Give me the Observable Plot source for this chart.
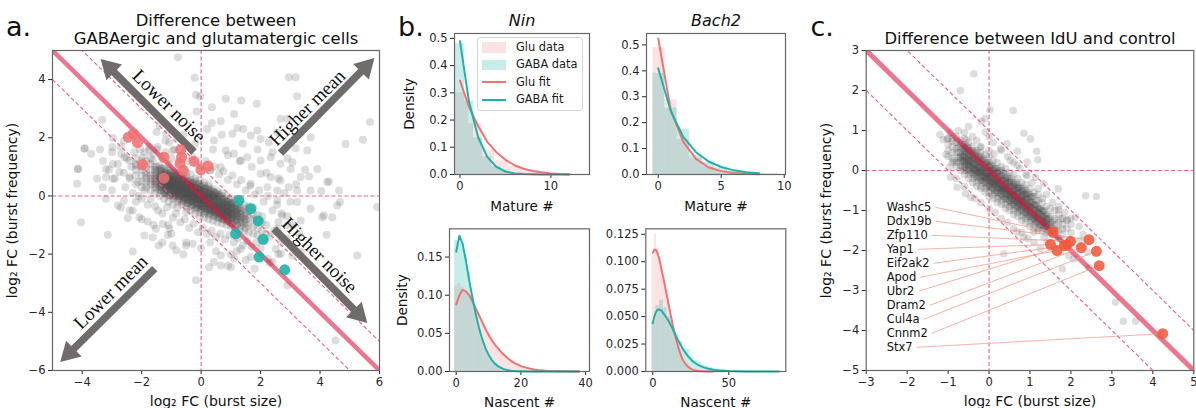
<!DOCTYPE html>
<html><head><meta charset="utf-8">
<script src="https://cdn.jsdelivr.net/npm/d3@7"></script>
<script src="https://cdn.jsdelivr.net/npm/@observablehq/plot@0.6"></script>
<style>
html,body{margin:0;padding:0;background:#fff;}
#root{position:relative;width:1196px;height:408px;overflow:hidden;font-family:'DejaVu Sans',sans-serif;}
.panel{position:absolute;}
.panel svg{overflow:visible;}
</style></head><body><div id="root"></div>
<script>
// ================= DATA =================
// ---- panel a: GABAergic vs glutamatergic (log2 FC burst size, log2 FC burst frequency)
const aTicksX = [-4,-2,0,2,4,6];
const aTicksY = [-6,-4,-2,0,2,4];
const aCoreCols = [
 [-2.2,[1.1,0.7,0.4,0.9,1.3]],
 [-2.0,[0.5,0.9,1.2,0.7,0.3,1.0]],
 [-1.85,[0.6,1.0,0.3,0.8,1.2,0.45,0.7]],
 [-1.7,[0.2,0.5,0.9,1.1,0.7,0.4,0.6,1.3]],
 [-1.55,[0.3,0.6,0.8,1.0,0.5,0.1,0.7,0.9,0.4]],
 [-1.4,[0.2,0.45,0.7,0.9,0.55,0.3,1.05,0.0,0.65]],
 [-1.25,[0.1,0.35,0.6,0.8,0.5,0.2,0.95,0.7,0.4,-0.1]],
 [-1.1,[0.0,0.3,0.5,0.75,0.9,0.45,0.15,0.6,0.35,-0.2,1.1]],
 [-0.95,[-0.1,0.2,0.45,0.7,0.35,0.0,0.55,0.85,0.25,0.6,-0.3]],
 [-0.8,[-0.2,0.1,0.35,0.6,0.8,0.25,0.45,0.0,0.7,0.15,0.5,-0.4]],
 [-0.65,[-0.3,0.0,0.25,0.5,0.7,0.35,0.1,0.6,-0.15,0.4,0.9,0.2]],
 [-0.5,[-0.4,-0.1,0.15,0.4,0.65,0.3,0.0,0.5,-0.25,0.25,0.8,0.1,-0.55]],
 [-0.35,[-0.5,-0.2,0.1,0.35,0.55,0.2,-0.05,0.45,-0.35,0.0,0.75,0.3]],
 [-0.2,[-0.6,-0.3,0.0,0.25,0.5,0.1,-0.15,0.35,-0.45,0.6,0.15,-0.05]],
 [-0.05,[-0.7,-0.4,-0.1,0.2,0.4,0.0,-0.25,0.3,-0.55,0.55,0.1,-0.15]],
 [0.1,[-0.75,-0.45,-0.15,0.1,0.35,-0.05,-0.3,0.25,-0.6,0.45,0.0,-0.2]],
 [0.25,[-0.8,-0.5,-0.25,0.05,0.3,-0.1,-0.4,0.2,-0.65,0.4,-0.05]],
 [0.4,[-0.85,-0.55,-0.3,0.0,0.25,-0.15,-0.45,0.15,-0.7,-0.05]],
 [0.55,[-0.9,-0.6,-0.35,-0.1,0.15,-0.25,-0.5,0.05,-0.75]],
 [0.7,[-0.95,-0.65,-0.4,-0.15,0.1,-0.3,-0.55,-0.8,0.0]],
 [0.85,[-1.0,-0.7,-0.45,-0.2,0.0,-0.35,-0.6,-0.85]],
 [1.0,[-1.05,-0.8,-0.5,-0.25,-0.1,-0.4,-0.65,-0.9]],
 [1.15,[-1.1,-0.85,-0.55,-0.3,-0.15,-0.45,-0.7]],
 [1.3,[-1.15,-0.9,-0.6,-0.4,-0.2,-0.75,-0.5]],
 [1.45,[-1.2,-0.95,-0.7,-0.45,-0.3,-0.8]],
 [1.6,[-1.25,-1.0,-0.75,-0.5,-0.35]],
 [1.75,[-1.3,-1.05,-0.8,-0.6,-0.4]],
 [1.9,[-1.1,-0.85,-0.65,-1.35]],
 [2.05,[-1.2,-0.9,-0.7]],
 [2.2,[-1.0,-1.3]]
];
const aCoreCols2 = [
 [-1.33,[0.2,0.4,0.55,0.7,0.85,0.3,0.6,0.95]],
 [-1.18,[0.15,0.3,0.5,0.65,0.8,0.4,0.05,0.6]],
 [-1.03,[0.05,0.25,0.4,0.55,0.7,0.35,0.15,0.85]],
 [-0.88,[0.0,0.2,0.35,0.5,0.65,0.3,0.1,0.8]],
 [-0.73,[-0.1,0.1,0.25,0.4,0.55,0.2,0.0,0.7]],
 [-0.58,[-0.15,0.05,0.2,0.35,0.5,0.15,-0.05,0.6]],
 [-0.43,[-0.25,-0.05,0.1,0.25,0.4,0.05,-0.15,0.5]],
 [-0.28,[-0.3,-0.1,0.05,0.2,0.35,0.0,-0.2,0.45]],
 [-0.13,[-0.4,-0.2,0.0,0.1,0.25,-0.1,-0.3,0.4]],
 [0.02,[-0.45,-0.25,-0.05,0.05,0.2,-0.15,-0.35,0.3]],
 [0.17,[-0.55,-0.35,-0.15,0.0,0.15,-0.25,-0.45,0.25]],
 [0.32,[-0.6,-0.4,-0.2,-0.05,0.1,-0.3,-0.5,0.2]],
 [0.47,[-0.65,-0.45,-0.3,-0.1,0.05,-0.35,-0.55,0.1]],
 [0.62,[-0.75,-0.55,-0.35,-0.2,0.0,-0.45,-0.65]],
 [0.77,[-0.8,-0.6,-0.4,-0.25,-0.1,-0.5,-0.7]],
 [0.92,[-0.85,-0.65,-0.5,-0.3,-0.15,-0.55,-0.75]],
 [1.07,[-0.95,-0.75,-0.55,-0.4,-0.25,-0.65]],
 [1.22,[-1.0,-0.8,-0.6,-0.45,-0.3,-0.7]]
];
const aCoreCols3 = [
 [-1.5,[0.25,0.4,0.5,0.62,0.75,0.88,1.0]],
 [-1.35,[0.18,0.32,0.45,0.57,0.68,0.8,0.93]],
 [-1.2,[0.1,0.25,0.37,0.5,0.6,0.74,0.86]],
 [-1.05,[0.03,0.18,0.3,0.42,0.55,0.66,0.8]],
 [-0.9,[-0.05,0.1,0.24,0.36,0.47,0.6,0.72]],
 [-0.75,[-0.12,0.04,0.17,0.29,0.4,0.54,0.66]],
 [-0.6,[-0.2,-0.04,0.1,0.22,0.34,0.47,0.6]],
 [-0.45,[-0.26,-0.1,0.03,0.15,0.27,0.4,0.52]],
 [-0.3,[-0.33,-0.17,-0.04,0.08,0.2,0.33,0.46]],
 [-0.15,[-0.4,-0.24,-0.1,0.02,0.14,0.27,0.4]],
 [0.0,[-0.46,-0.3,-0.17,-0.05,0.07,0.2,0.33]],
 [0.15,[-0.53,-0.37,-0.24,-0.12,0.0,0.13,0.26]],
 [0.3,[-0.6,-0.44,-0.3,-0.18,-0.06,0.07,0.2]],
 [0.45,[-0.66,-0.5,-0.37,-0.25,-0.13,0.0,0.13]],
 [0.6,[-0.73,-0.57,-0.44,-0.32,-0.2,-0.07,0.06]],
 [0.75,[-0.8,-0.64,-0.5,-0.38,-0.26,-0.14]],
 [0.9,[-0.86,-0.7,-0.57,-0.45,-0.33,-0.2]],
 [1.05,[-0.92,-0.76,-0.63,-0.52,-0.4,-0.27]],
 [1.2,[-0.98,-0.83,-0.7,-0.58,-0.46,-0.34]],
 [1.35,[-1.04,-0.9,-0.76,-0.64,-0.52]],
 [1.5,[-1.1,-0.95,-0.82,-0.7,-0.58]]
];
const aCoreCols4 = [
 [-1.12,[0.2,0.35,0.47,0.6,0.72]],
 [-0.97,[0.12,0.27,0.4,0.52,0.65]],
 [-0.82,[0.05,0.2,0.33,0.45,0.58]],
 [-0.67,[-0.02,0.13,0.26,0.38,0.5]],
 [-0.52,[-0.1,0.06,0.19,0.31,0.43]],
 [-0.37,[-0.17,-0.01,0.12,0.24,0.36]],
 [-0.22,[-0.23,-0.08,0.05,0.17,0.3]],
 [-0.07,[-0.3,-0.15,-0.02,0.1,0.23]],
 [0.08,[-0.37,-0.22,-0.09,0.04,0.16]],
 [0.23,[-0.43,-0.28,-0.15,-0.03,0.1]],
 [0.38,[-0.5,-0.35,-0.22,-0.1,0.03]],
 [0.53,[-0.57,-0.42,-0.29,-0.16,-0.04]],
 [0.68,[-0.64,-0.49,-0.36,-0.23,-0.1]],
 [0.83,[-0.7,-0.55,-0.42,-0.3,-0.17]],
 [0.98,[-0.77,-0.62,-0.49,-0.36,-0.24]]
];
const aHalo = [[-3.3,1.2],[-3.1,0.9],[-3.0,1.5],[-2.9,0.6],[-2.8,1.1],[-2.7,1.7],[-2.6,0.8],[-2.55,0.3],[-2.5,1.3],[-2.4,0.6],[-2.35,1.0],[-2.3,0.1],[-2.25,1.5],[-2.2,-0.2],[-2.1,0.0],[-2.05,1.6],[-2.0,-0.1],[-1.9,1.5],[-1.8,-0.3],[-1.75,1.7],[-1.7,-0.1],[-1.6,1.45],[-1.55,-0.35],[-1.5,1.6],[-1.45,-0.5],[-1.35,1.35],[-1.3,-0.6],[-1.2,1.5],[-1.15,-0.4],[-1.0,1.3],[-0.95,-0.75],[-0.9,1.6],[-0.85,-0.6],[-0.75,1.2],[-0.7,-0.9],[-0.6,1.45],[-0.55,-0.8],[-0.45,1.2],[-0.4,-1.1],[-0.3,1.35],[-0.25,-0.95],[-0.15,1.1],[-0.1,-1.25],[0.0,1.0],[0.05,-1.1],[0.15,1.2],[0.2,-1.3],[0.3,0.9],[0.35,-1.2],[0.45,1.0],[0.5,-1.4],[0.6,0.75],[0.65,-1.3],[0.75,0.85],[0.8,-1.5],[0.9,0.55],[0.95,-1.35],[1.05,0.7],[1.1,-1.6],[1.2,0.4],[1.25,-1.45],[1.35,0.55],[1.4,-1.7],[1.5,0.2],[1.55,-1.55],[1.65,0.35],[1.7,-1.75],[1.8,0.05],[1.85,-1.6],[1.95,0.2],[2.0,-1.8],[2.1,-0.2],[2.15,-1.55],[2.25,0.0],[2.3,-1.4],[2.4,-0.5],[2.45,-1.2],[2.55,-0.3],[2.6,-0.9],[2.7,-0.6],[2.8,0.1],[2.9,-0.7],[3.0,-0.2],[3.1,-1.0],[-3.5,0.6],[-3.4,1.6],[-2.6,1.9],[-2.2,1.95],[-1.2,1.9],[-0.8,2.0],[0.4,1.6],[0.9,1.4],[1.3,1.2],[1.7,1.0],[2.2,0.8],[2.6,0.6],[3.2,0.4],[-1.0,-1.3],[-1.6,-1.0],[-2.0,-0.8],[-0.5,-1.6],[0.0,-1.8],[0.5,-1.9],[1.0,-2.0],[1.5,-2.2],[2.3,-2.3],[-2.7,-0.4],[-3.0,0.2],[-3.2,-0.1],[-1.3,-1.6],[-0.6,-2.0],[0.9,-2.4],[1.8,-2.5],[2.7,-1.6],[3.3,-1.3],[3.5,0.9],[2.9,1.3],[2.4,1.5],[1.9,1.6],[1.4,1.8],[0.7,2.1],[0.2,2.3],[-0.2,1.8],[-0.6,2.1],[-1.5,2.2],[-1.9,0.2],[-2.4,-0.5],[-1.1,-1.0],[0.3,-1.6],[1.2,-1.9],[2.6,-2.0]];
const aSparse = [[-0.78,4.77],[-0.22,4.06],[-0.04,3.42],[-0.17,3.48],[-0.15,2.9],[0.36,3.05],[0.83,3.34],[1.35,3.28],[1.87,3.17],[2.95,4.08],[3.18,4.08],[3.23,3.43],[2.67,2.65],[2.9,2.65],[0.36,2.51],[0.66,2.57],[1.22,2.34],[1.42,2.3],[1.89,2.25],[1.05,2.14],[1.67,2.08],[2.0,1.96],[2.28,1.85],[3.18,1.64],[3.57,1.56],[4.86,1.79],[5.44,1.93],[5.68,2.54],[0.43,1.91],[0.83,1.56],[1.1,1.45],[1.33,1.22],[1.55,1.33],[2.0,1.22],[2.34,1.33],[2.67,1.11],[3.01,0.93],[3.35,0.65],[3.63,0.67],[3.91,0.93],[4.3,0.5],[4.64,0.19],[2.0,0.76],[2.34,0.65],[2.67,0.53],[2.95,0.3],[3.23,0.19],[3.68,0.19],[2.56,0.19],[2.23,0.3],[1.67,0.42],[0.66,0.99],[0.32,0.88],[3.68,2.02],[2.56,2.19],[1.11,2.82],[4.04,0.17],[4.24,0.48],[3.07,1.16],
 [2.56,-0.15],[3.23,-0.21],[4.58,-0.33],[5.92,-0.38],[4.07,-0.73],[4.41,-0.73],[4.22,-1.33],[5.25,-2.05],[4.52,-4.97],[2.51,-1.82],[2.68,-1.99],[2.9,-3.08],[2.23,-2.16],[1.67,-2.1],[1.33,-1.82],[1.11,-2.16],[0.66,-2.39],[0.43,-2.27],[0.27,-2.45],[1.0,-2.45],[0.66,-2.05],[2.4,-2.27],[2.9,-1.47],[3.07,-2.05],[3.35,-1.93],[2.56,-1.13],[2.9,-1.01],[2.73,-0.67],[3.35,-0.84],[3.68,-0.44],[4.13,-0.67],[4.67,-0.21],
 [-4.04,-0.9],[-3.14,-1.33],[-2.3,-1.91],[-2.47,-0.76],[-2.8,-0.33],[-2.6,-0.16],[-2.3,-0.5],[-2.08,-0.73],[-1.91,-1.36],[-1.63,-1.42],[-1.43,-1.7],[-1.12,-1.34],[-0.96,-1.7],[-0.84,-1.87],[-0.51,-1.7],[-0.28,-1.64],[-0.17,-2.9],[-1.8,-0.88],[-1.52,-1.13],[-1.29,-0.96],[-1.07,-1.13],
 [-3.33,2.62],[-3.93,1.62],[-3.7,1.45],[-2.97,1.99],[-2.99,1.68],[-4.15,0.93],[-3.2,0.93],[-2.97,0.59],[-4.17,0.42],[-4.14,0.93],[-3.91,1.64],[-2.69,1.45],[-2.58,1.33],[-2.41,1.22],[-2.19,1.05],[-1.97,1.33],[-1.74,1.56],[-1.63,1.22],[-1.46,1.68],[-1.4,2.42],[-1.18,2.14],[-1.07,1.85],[-0.96,1.56],[-2.97,1.1],[-2.75,0.82],[-3.2,0.65],[-2.41,0.65],[-2.13,0.48],[-3.31,0.3]];
const aGluGenes = [[-2.45,2.02],[-2.28,2.14],[-2.14,1.83],[-1.97,1.08],[-1.25,1.33],[-1.25,0.61],[-0.69,1.59],[-0.66,1.33],[-0.71,1.11],[-0.6,0.88],[-0.24,1.19],[-0.01,0.9],[0.23,1.03]];
const aGabaGenes = [[1.27,-0.15],[1.67,-0.44],[1.92,-0.86],[1.16,-1.3],[2.08,-1.49],[1.95,-2.1],[2.81,-2.54]];
const diagOffsets = [1, -1];
const aArrows = [
 {label:"Lower noise", x1:-0.24, y1:1.51, x2:-3.38, y2:4.71, tx:-1.08, ty:3.09, rot:45},
 {label:"Higher mean", x1:2.67, y1:1.47, x2:5.83, y2:4.74, tx:3.57, ty:3.03, rot:-45},
 {label:"Lower mean", x1:-1.56, y1:-2.5, x2:-4.74, y2:-5.71, tx:-3.04, ty:-3.31, rot:-45},
 {label:"Higher noise", x1:2.45, y1:-1.13, x2:5.59, y2:-4.37, tx:3.98, ty:-2.04, rot:45}
];

// ---- panel b: Nin / Bach2 distributions
const ninMatureFitX = [0,1,2,3,4,5,6,7,8,9,10,11,12];
const ninMatureGluFit = [0.345,0.247,0.178,0.12,0.082,0.054,0.034,0.021,0.013,0.008,0.004,0.002,0.001];
const ninMatureGabaFit = [0.49,0.267,0.137,0.065,0.028,0.011,0.004,0.0015,0.0005,0.0002,0.0001,0,0];
const ninMatureGluEdges = [-0.5,0.95,2.4,3.85,5.3,6.75,8.2,9.65,11.1,12.55];
const ninMatureGluHist = [0.30,0.186,0.09,0.05,0.03,0.016,0.008,0.004,0.002];
const ninMatureGabaEdges = [-0.5,0.5,1.5,2.5,3.5,4.5,5.5,6.5,7.5,8.5,9.5,10.5,11.5,12.5];
const ninMatureGabaHist = [0.48,0.27,0.135,0.065,0.03,0.012,0.005,0.002,0.001,0.0005,0.0003,0.0002,0.0001];

const bachMatureFitX = [0,1,2,3,4,5,6,7,8];
const bachMatureGluFit = [0.525,0.247,0.125,0.06,0.027,0.013,0.006,0.003,0.001];
const bachMatureGabaFit = [0.41,0.244,0.144,0.086,0.05,0.029,0.016,0.009,0.005];
const bachMatureEdges = [-0.42,0.53,1.5,2.5,3.5,4.5,5.5,6.5,7.5,8.5,9.6];
const bachMatureGluHist = [0.49,0.288,0.135,0.062,0.03,0.014,0.007,0.003,0.0015,0.0008];
const bachMatureGabaHist = [0.39,0.256,0.175,0.075,0.048,0.026,0.013,0.007,0.004,0.002];

const ninNascentGluFitX = [0,1,2,3,4,5,6,7,8,9,10,11,12,13,14,15,16,17,18,19,20,21,22,23,24,25,26,27,28,29,30,31,32,33,34,35,36,37,38];
const ninNascentGluFit = [0.088,0.1,0.107,0.105,0.1,0.092,0.083,0.074,0.065,0.056,0.048,0.041,0.035,0.03,0.025,0.021,0.017,0.014,0.011,0.009,0.007,0.0057,0.0045,0.0035,0.0027,0.002,0.0016,0.0012,0.0009,0.0007,0.0005,0.0004,0.0003,0.0002,0.0002,0.0001,0.0001,0.0001,0];
const ninNascentGabaFitX = [0,1,2,3,4,5,6,7,8,9,10,11,12,13,14,15,16,17,18,19,20,22,25,30,38];
const ninNascentGabaFit = [0.157,0.178,0.167,0.145,0.12,0.097,0.076,0.058,0.043,0.031,0.022,0.015,0.01,0.0067,0.0044,0.0028,0.0018,0.0011,0.0007,0.0004,0.0003,0.0001,0,0,0];
const ninNascentGluHist = [0.112,0.115,0.11,0.106,0.1,0.093,0.085,0.076,0.067,0.058,0.05,0.043,0.036,0.031,0.026,0.021,0.017,0.014,0.011,0.009,0.007,0.0055,0.0044,0.0034,0.0026,0.002,0.0015,0.0012,0.0009,0.0007,0.0005,0.0004,0.0003,0.0002,0.0002,0.0001,0.0001,0.0001];
const ninNascentGabaHist = [0.172,0.17,0.168,0.152,0.13,0.1,0.078,0.058,0.043,0.031,0.022,0.015,0.01,0.007,0.0045,0.003,0.002,0.0012,0.0008,0.0005,0.0003];

const bachNascentGluFitX = [0,1,2,3,4,5,6,7,8,9,10,11,12,13,14,15,16,17,18,19,20,21,22,23,24,25,26,28,30,33,36,40];
const bachNascentGluFit = [0.108,0.111,0.111,0.108,0.104,0.098,0.091,0.085,0.078,0.071,0.064,0.057,0.05,0.043,0.037,0.031,0.026,0.021,0.017,0.013,0.010,0.008,0.006,0.0046,0.0035,0.0026,0.0019,0.001,0.0005,0.0002,0.0001,0];
const bachNascentGabaFitX = [0,1,2,3,4,5,6,7,8,9,10,12,14,16,18,20,22,24,26,28,30,33,36,40,45,50,55,60,70,83];
const bachNascentGabaFit = [0.044,0.05,0.054,0.056,0.0565,0.056,0.055,0.053,0.051,0.049,0.047,0.042,0.036,0.03,0.025,0.02,0.016,0.0125,0.0097,0.0075,0.0058,0.004,0.0027,0.0016,0.0008,0.0004,0.0002,0.0001,0,0];
const bachNascentGluHist = [0.105,0.125,0.112,0.104,0.095,0.085,0.074,0.062,0.05,0.04,0.031,0.023,0.016,0.011,0.007,0.0045,0.003,0.002,0.0012,0.0008];
const bachNascentGabaHist = [0.045,0.06,0.065,0.058,0.05,0.042,0.034,0.027,0.021,0.02,0.013,0.01,0.008,0.006,0.0045,0.0035,0.0025,0.002,0.0015,0.0012,0.001,0.0008,0.0006,0.0005,0.0004,0.0003,0.0003,0.0002,0.0002,0.0001,0.0001,0.0001,0.0001];

const legendLabels = ["Glu data","GABA data","Glu fit","GABA fit"];

// ---- panel c: IdU vs control
const cTicksX = [-3,-2,-1,0,1,2,3,4,5];
const cTicksY = [-5,-4,-3,-2,-1,0,1,2,3];
const cCoreCols = [
 [-1.0,[0.5,0.8,0.35,0.65]],
 [-0.9,[0.3,0.6,0.8,0.45,0.2]],
 [-0.8,[0.2,0.45,0.7,0.55,0.1,0.85]],
 [-0.7,[0.1,0.35,0.6,0.45,0.75,0.0,0.25]],
 [-0.6,[0.0,0.25,0.5,0.4,0.65,-0.1,0.15,0.8]],
 [-0.5,[-0.1,0.15,0.4,0.3,0.55,-0.2,0.05,0.7,0.2]],
 [-0.4,[-0.2,0.05,0.3,0.2,0.5,-0.3,-0.05,0.6,0.1,0.4]],
 [-0.3,[-0.3,-0.05,0.2,0.1,0.45,-0.4,-0.15,0.5,0.0,0.3]],
 [-0.2,[-0.4,-0.15,0.1,0.0,0.35,-0.45,-0.25,0.45,-0.05,0.25,0.6]],
 [-0.1,[-0.45,-0.2,0.05,-0.1,0.25,-0.55,-0.3,0.4,-0.15,0.15]],
 [0.0,[-0.55,-0.3,-0.05,-0.15,0.2,-0.65,-0.4,0.35,-0.2,0.1,0.5]],
 [0.1,[-0.6,-0.35,-0.1,-0.25,0.1,-0.7,-0.45,0.25,-0.3,0.0]],
 [0.2,[-0.7,-0.45,-0.2,-0.3,0.05,-0.8,-0.55,0.2,-0.35,-0.05]],
 [0.3,[-0.75,-0.5,-0.25,-0.4,0.0,-0.85,-0.6,0.1,-0.45,-0.15]],
 [0.4,[-0.85,-0.6,-0.35,-0.45,-0.1,-0.95,-0.7,0.05,-0.5,-0.25]],
 [0.5,[-0.9,-0.65,-0.4,-0.55,-0.2,-1.0,-0.75,-0.05,-0.6,-0.3]],
 [0.6,[-1.0,-0.75,-0.5,-0.6,-0.3,-1.1,-0.85,-0.1,-0.65,-0.4]],
 [0.7,[-1.05,-0.8,-0.55,-0.7,-0.35,-1.15,-0.9,-0.2,-0.75,-0.45]],
 [0.8,[-1.15,-0.9,-0.65,-0.75,-0.45,-1.25,-1.0,-0.3,-0.8,-0.55]],
 [0.9,[-1.2,-0.95,-0.7,-0.85,-0.5,-1.3,-1.05,-0.35,-0.9,-0.6]],
 [1.0,[-1.3,-1.05,-0.8,-0.9,-0.6,-1.4,-1.15,-0.45,-0.95]],
 [1.1,[-1.35,-1.1,-0.85,-1.0,-0.65,-1.45,-1.2,-0.55]],
 [1.2,[-1.45,-1.2,-0.95,-1.05,-0.75,-1.5,-1.3,-0.6]],
 [1.3,[-1.5,-1.25,-1.0,-1.15,-0.8,-1.35,-0.7]],
 [1.4,[-1.55,-1.3,-1.1,-1.2,-0.9,-1.4]],
 [1.5,[-1.6,-1.35,-1.15,-1.3,-0.95]],
 [1.6,[-1.65,-1.45,-1.2,-1.0]],
 [1.7,[-1.5,-1.3,-1.1,-1.7]],
 [1.8,[-1.6,-1.35,-1.2]],
 [1.9,[-1.45,-1.25]],
 [2.0,[-1.55,-1.35]]
];
const cCoreCols2 = [
 [-0.65,[0.1,0.25,0.4,0.55,0.3,0.65]],
 [-0.55,[0.0,0.15,0.3,0.45,0.6,0.25]],
 [-0.45,[-0.05,0.1,0.25,0.35,0.5,0.2]],
 [-0.35,[-0.15,0.0,0.15,0.3,0.45,0.05]],
 [-0.25,[-0.25,-0.05,0.1,0.2,0.35,0.0]],
 [-0.15,[-0.3,-0.15,0.0,0.15,0.3,-0.05]],
 [-0.05,[-0.4,-0.2,-0.05,0.05,0.2,-0.15]],
 [0.05,[-0.5,-0.3,-0.15,0.0,0.15,-0.2]],
 [0.15,[-0.55,-0.35,-0.2,-0.1,0.05,-0.3]],
 [0.25,[-0.65,-0.45,-0.3,-0.15,0.0,-0.35]],
 [0.35,[-0.7,-0.5,-0.4,-0.25,-0.05,-0.45]],
 [0.45,[-0.8,-0.6,-0.45,-0.3,-0.15,-0.5]],
 [0.55,[-0.85,-0.7,-0.55,-0.4,-0.2,-0.6]],
 [0.65,[-0.95,-0.75,-0.6,-0.45,-0.3,-0.65]],
 [0.75,[-1.0,-0.85,-0.7,-0.55,-0.4,-0.75]],
 [0.85,[-1.1,-0.9,-0.75,-0.6,-0.45,-0.8]],
 [0.95,[-1.15,-1.0,-0.85,-0.7,-0.55,-0.9]],
 [1.05,[-1.25,-1.1,-0.95,-0.8,-0.65]],
 [1.15,[-1.3,-1.15,-1.0,-0.85,-0.75]],
 [1.25,[-1.4,-1.25,-1.1,-0.95]],
 [1.35,[-1.45,-1.3,-1.15,-1.0]],
 [1.45,[-1.5,-1.35,-1.2]]
];
const cCoreCols3 = [
 [-0.75,[0.2,0.32,0.45,0.58,0.7]],
 [-0.62,[0.08,0.22,0.35,0.48,0.6]],
 [-0.5,[0.0,0.13,0.26,0.38,0.5]],
 [-0.38,[-0.1,0.04,0.17,0.3,0.42]],
 [-0.27,[-0.18,-0.05,0.08,0.21,0.33]],
 [-0.17,[-0.25,-0.12,0.0,0.13,0.26]],
 [-0.07,[-0.33,-0.2,-0.07,0.06,0.18]],
 [0.03,[-0.42,-0.28,-0.15,-0.02,0.1]],
 [0.13,[-0.5,-0.36,-0.23,-0.1,0.03]],
 [0.23,[-0.57,-0.43,-0.3,-0.17,-0.05]],
 [0.33,[-0.65,-0.51,-0.38,-0.25,-0.12]],
 [0.43,[-0.72,-0.59,-0.46,-0.33,-0.2]],
 [0.53,[-0.8,-0.67,-0.54,-0.41,-0.28]],
 [0.63,[-0.88,-0.75,-0.62,-0.49,-0.36]],
 [0.73,[-0.96,-0.83,-0.7,-0.57,-0.44]],
 [0.83,[-1.04,-0.9,-0.77,-0.64,-0.51]],
 [0.93,[-1.11,-0.98,-0.85,-0.72,-0.59]],
 [1.03,[-1.19,-1.06,-0.93,-0.8,-0.67]],
 [1.13,[-1.27,-1.14,-1.01,-0.88]],
 [1.23,[-1.35,-1.22,-1.09,-0.96]],
 [1.33,[-1.42,-1.29,-1.16,-1.03]],
 [1.43,[-1.5,-1.37,-1.24,-1.11]],
 [1.53,[-1.55,-1.43,-1.3]],
 [1.63,[-1.6,-1.48,-1.36]]
];
const cCoreCols4 = [
 [-0.58,[0.1,0.22,0.34,0.46,0.56]],
 [-0.46,[0.0,0.12,0.24,0.36,0.47]],
 [-0.33,[-0.1,0.02,0.14,0.26,0.37]],
 [-0.22,[-0.18,-0.06,0.05,0.17,0.28]],
 [-0.11,[-0.27,-0.15,-0.03,0.09,0.2]],
 [0.0,[-0.36,-0.24,-0.12,0.0,0.11]],
 [0.09,[-0.43,-0.31,-0.19,-0.07,0.04]],
 [0.19,[-0.5,-0.39,-0.27,-0.15,-0.04]],
 [0.29,[-0.58,-0.46,-0.35,-0.23,-0.11]],
 [0.39,[-0.66,-0.54,-0.42,-0.3,-0.19]],
 [0.49,[-0.74,-0.62,-0.5,-0.38,-0.27]],
 [0.59,[-0.82,-0.7,-0.58,-0.46,-0.35]],
 [0.69,[-0.9,-0.78,-0.66,-0.54,-0.42]],
 [0.79,[-0.97,-0.85,-0.74,-0.62,-0.5]],
 [0.89,[-1.05,-0.93,-0.81,-0.69,-0.58]],
 [0.99,[-1.13,-1.01,-0.89,-0.77,-0.66]],
 [1.09,[-1.2,-1.08,-0.97,-0.85]],
 [1.19,[-1.28,-1.16,-1.05,-0.93]],
 [1.29,[-1.35,-1.24,-1.12,-1.0]],
 [1.39,[-1.42,-1.31,-1.2]]
];
const cHalo = [[-0.37,2.42],[-0.70,2.0],[0.02,1.52],[0.59,1.5],[-0.19,1.23],[0.85,0.93],[1.01,0.79],[-0.09,0.96],[0.28,0.54],[0.69,0.48],[1.16,0.48],[1.19,0.27],[0.93,0.21],[-1.12,0.77],[-1.02,0.79],[-0.9,0.73],[-0.55,0.77],[-0.52,0.58],[-0.7,0.33],[-0.86,0.25],[0.52,0.25],[0.69,0.13],[0.93,-0.13],[1.13,-0.17],[1.34,-0.33],[1.69,-0.46],[2.36,-0.63],[2.62,-0.65],[-0.58,-0.58],[-0.78,-0.42],[-0.45,-0.67],[-0.94,-0.17],[-0.21,0.58],[0.12,0.42],[0.44,0.67],
 [1.70,-0.98],[1.58,-1.25],[1.34,-1.29],[1.18,-1.17],[1.75,-1.21],[1.91,-1.23],[2.11,-1.17],[1.09,-1.54],[1.34,-1.67],[1.79,-1.46],[2.23,-1.75],[2.4,-2.04],[1.95,-2.13],[2.07,-2.21],[1.79,-2.46],[2.44,-2.42],[3.09,-3.29],[3.28,-3.77],[3.58,-3.77],[0.69,-1.54],[0.85,-1.67],[0.36,-2.08],[1.42,-1.79],[1.58,-1.92],[1.75,-1.71],
 [-1.2,0.9],[-0.95,0.95],[-0.75,1.0],[-0.6,0.95],[-0.4,0.85],[-0.3,0.75],[-1.05,0.4],[-0.95,0.1],[-0.8,-0.2],[-0.6,-0.4],[-0.35,-0.7],[-0.2,-0.8],[0.0,-0.95],[0.15,-1.05],[0.3,-1.2],[0.45,-1.3],[0.6,-1.45],[0.8,-1.55],[0.95,-1.7],[1.1,-1.8],[1.25,-1.95],[0.1,0.7],[0.3,0.5],[0.45,0.35],[0.6,0.2],[0.75,0.05],[0.9,-0.1],[1.05,-0.3],[1.2,-0.45],[1.4,-0.6],[1.55,-0.8],[1.7,-0.9],[1.85,-1.05],[2.0,-1.2],[2.2,-1.4],[2.3,-1.6],[-0.1,1.3],[0.0,0.85],[-0.5,1.1]];
const cGenes = ["Washc5","Ddx19b","Zfp110","Yap1","Eif2ak2","Apod","Ubr2","Dram2","Cul4a","Cnnm2","Stx7"];
const cGeneBurstSize = [1.56,2.44,1.99,1.50,1.84,1.66,1.90,2.25,2.62,2.69,4.24];
const cGeneBurstFreq = [-1.54,-1.73,-1.77,-1.85,-1.88,-2.00,-1.86,-1.93,-2.02,-2.38,-4.08];

// ================= DRAWING =================
const root = document.getElementById("root");
function place(el, left, top) {
  const d = document.createElement("div");
  d.className = "panel"; d.style.left = left + "px"; d.style.top = top + "px";
  d.appendChild(el); root.appendChild(d);
}
const flat = cols => cols.flatMap(([x, ys]) => ys.map(y => [x, y]));
const pairs = (xs, ys) => xs.map((x, i) => [x, ys[i]]);
const fmtInt = d3.format("d");
const baseStyle = {fontFamily: "'DejaVu Sans', sans-serif", fontSize: "11.5px", background: "transparent", overflow: "visible", color: "#262626"};
const TXT = "#111";
const GLU = "#f08080", GLU_LINE = "#f07373", GABA = "#20b2aa";
const GRAY = "#4a4a4a", GRAY_OP = 0.19;
const DASH_COL = "#ee5f84";
const dash = {stroke: DASH_COL, strokeWidth: 1.1, strokeDasharray: "4,2.5"};
const ARROW = "#706c6c";
// identity line y = -x (thick) and dashed lines y = -x ± 1, spanning the x domain
const diagLinks = (xd, ks) => ks.map(k => ({k, x1: xd[0], y1: k - xd[0], x2: xd[1], y2: k - xd[1]}));

function arrowMarks(arrows, cfg, color) {
  const kx = (cfg.w - cfg.ml - cfg.mr) / (cfg.xd[1] - cfg.xd[0]);
  const ky = (cfg.h - cfg.mt - cfg.mb) / (cfg.yd[1] - cfg.yd[0]);
  const headR = 8.2;
  const half = Math.sqrt(Math.PI * headR * headR / (3 * Math.sqrt(3)));
  const tipDist = 2 * half, headLen = 3 * half;
  const shafts = [], heads = [];
  for (const a of arrows) {
    const px = (a.x2 - a.x1) * kx, py = -(a.y2 - a.y1) * ky;
    const L = Math.hypot(px, py), ux = px / L, uy = py / L;
    heads.push({x: a.x2 - ux * tipDist / kx, y: a.y2 + uy * tipDist / ky, rot: Math.atan2(ux, -uy) * 180 / Math.PI});
    const back = headLen - 1;
    shafts.push({x1: a.x1, y1: a.y1, x2: a.x2 - ux * back / kx, y2: a.y2 + uy * back / ky});
  }
  return [
    Plot.link(shafts, {x1: "x1", y1: "y1", x2: "x2", y2: "y2", stroke: color, strokeWidth: 7.5, strokeLinecap: "butt"}),
    Plot.dot(heads, {x: "x", y: "y", symbol: "triangle", r: headR, rotate: "rot", fill: color, stroke: "none"})
  ];
}
function diagMarks(xd, thickWidth) {
  return [
    Plot.link(diagLinks(xd, diagOffsets), {x1: "x1", y1: "y1", x2: "x2", y2: "y2", ...dash, clip: true}),
    Plot.link(diagLinks(xd, [0]), {x1: "x1", y1: "y1", x2: "x2", y2: "y2", stroke: "crimson", strokeOpacity: 0.58, strokeWidth: thickWidth, clip: true})
  ];
}

// ---------- panel a ----------
const A = {w: 395, h: 408, ml: 52, mr: 16, mt: 50, mb: 38, xd: [-5, 6], yd: [-6, 5]};
const aGray = [...flat(aCoreCols), ...flat(aCoreCols2), ...flat(aCoreCols3), ...flat(aCoreCols4), ...aHalo, ...aSparse];
const plotA = Plot.plot({
  width: A.w, height: A.h, marginLeft: A.ml, marginRight: A.mr, marginTop: A.mt, marginBottom: A.mb,
  style: baseStyle,
  x: {domain: A.xd, ticks: aTicksX, tickFormat: fmtInt, tickSize: 4, tickPadding: 3, label: null},
  y: {domain: A.yd, ticks: aTicksY, tickFormat: fmtInt, tickSize: 4, tickPadding: 3, label: null},
  marks: [
    Plot.ruleX([0], dash),
    Plot.ruleY([0], dash),
    Plot.dot(aGray, {x: d => d[0], y: d => d[1], r: 4, fill: GRAY, fillOpacity: GRAY_OP, stroke: "none", clip: true}),
    ...diagMarks(A.xd, 4.5),
    ...arrowMarks(aArrows, A, ARROW),
    Plot.dot(aGluGenes, {x: d => d[0], y: d => d[1], r: 5.5, fill: "#f07070", fillOpacity: 0.85, stroke: "none"}),
    Plot.dot(aGabaGenes, {x: d => d[0], y: d => d[1], r: 5.5, fill: GABA, fillOpacity: 0.9, stroke: "none"}),
    Plot.text(aArrows, {x: "tx", y: "ty", text: "label", rotate: "rot", fontFamily: "'Liberation Serif', serif", fontSize: 19, fill: TXT, textAnchor: "middle", lineAnchor: "middle"}),
    Plot.frame({stroke: "#666", strokeWidth: 1.2}),
    Plot.text(["Difference between"], {frameAnchor: "top", dy: -25, textAnchor: "middle", lineAnchor: "bottom", fontSize: 16.4, fill: TXT}),
    Plot.text(["GABAergic and glutamatergic cells"], {frameAnchor: "top", dy: -6.5, textAnchor: "middle", lineAnchor: "bottom", fontSize: 16.4, fill: TXT}),
    Plot.text(["log₂ FC (burst size)"], {frameAnchor: "bottom", dy: 35, textAnchor: "middle", lineAnchor: "bottom", fontSize: 14, fill: TXT}),
    Plot.text(["log₂ FC (burst frequency)"], {frameAnchor: "left", dx: -35.3, rotate: -90, textAnchor: "middle", lineAnchor: "bottom", fontSize: 14, fill: TXT}),
    Plot.text(["a."], {frameAnchor: "top-left", dx: -46.5, dy: -15, textAnchor: "start", lineAnchor: "bottom", fontSize: 27, fill: TXT})
  ]
});
place(plotA, 0, 0);

// ---------- panel b ----------
const bins = (edges, hs) => hs.map((h, i) => ({x1: edges[i], x2: edges[i + 1], y: h}));
const binsW = (start, width, hs) => hs.map((h, i) => ({x1: start + i * width, x2: start + (i + 1) * width, y: h}));
function histPanel(p) {
  return Plot.plot({
    width: p.w, height: p.h, marginLeft: p.ml, marginRight: p.mr, marginTop: p.mt, marginBottom: p.mb,
    style: baseStyle,
    x: {domain: p.xd, ticks: p.xticks, tickFormat: fmtInt, tickSize: 4, tickPadding: 3, label: null},
    y: {domain: p.yd, ticks: p.yticks, tickFormat: d3.format(p.yfmt), tickSize: 4, tickPadding: 3, label: null},
    marks: [
      Plot.rectY(p.glu, {x1: "x1", x2: "x2", y: "y", fill: GLU, fillOpacity: 0.22, clip: true}),
      Plot.rectY(p.gaba, {x1: "x1", x2: "x2", y: "y", fill: GABA, fillOpacity: 0.25, clip: true}),
      Plot.line(p.gluFit, {stroke: GLU_LINE, strokeWidth: 2}),
      Plot.line(p.gabaFit, {stroke: GABA, strokeWidth: 2}),
      Plot.frame({stroke: "#666", strokeWidth: 1.2}),
      ...(p.title ? [Plot.text([p.title], {frameAnchor: "top", dy: -8, textAnchor: "middle", lineAnchor: "bottom", fontSize: 16, fontStyle: "italic", fill: TXT})] : []),
      Plot.text([p.xlabel], {frameAnchor: "bottom", dy: p.xlabelDy, textAnchor: "middle", lineAnchor: "bottom", fontSize: 13.6, fill: TXT}),
      ...(p.ylabelDx ? [Plot.text(["Density"], {frameAnchor: "left", dx: p.ylabelDx, rotate: -90, textAnchor: "middle", lineAnchor: "bottom", fontSize: 13.6, fill: TXT})] : []),
      ...(p.tag ? [Plot.text([p.tag], {frameAnchor: "top-left", dx: p.tagDx, dy: p.tagDy, textAnchor: "start", lineAnchor: "bottom", fontSize: 27, fill: TXT})] : [])
    ]
  });
}
const ticks01 = [0, 0.1, 0.2, 0.3, 0.4, 0.5];
place(histPanel({w: 200, h: 215, ml: 59, mr: 6, mt: 33, mb: 41, xd: [-0.6, 14.25], yd: [0, 0.518], xticks: [0, 10], yticks: ticks01, yfmt: ".1f",
  glu: bins(ninMatureGluEdges, ninMatureGluHist), gaba: bins(ninMatureGabaEdges, ninMatureGabaHist),
  gluFit: pairs(ninMatureFitX, ninMatureGluFit), gabaFit: pairs(ninMatureFitX, ninMatureGabaFit),
  title: "Nin", xlabel: "Mature #", xlabelDy: 36, ylabelDx: -40.6, tag: "b.", tagDx: -56.5, tagDy: 2}), 395, 0);
place(histPanel({w: 200, h: 215, ml: 51, mr: 10, mt: 33, mb: 41, xd: [-0.93, 10.1], yd: [0, 0.544], xticks: [0, 5, 10], yticks: ticks01, yfmt: ".1f",
  glu: bins(bachMatureEdges, bachMatureGluHist), gaba: bins(bachMatureEdges, bachMatureGabaHist),
  gluFit: pairs(bachMatureFitX, bachMatureGluFit), gabaFit: pairs(bachMatureFitX, bachMatureGabaFit),
  title: "Bach2", xlabel: "Mature #", xlabelDy: 36}), 595, 0);
place(histPanel({w: 200, h: 193, ml: 54, mr: 6, mt: 13.3, mb: 37, xd: [-2.07, 41.2], yd: [0, 0.187], xticks: [0, 20, 40], yticks: [0, 0.05, 0.1, 0.15], yfmt: ".2f",
  glu: binsW(-0.5, 1, ninNascentGluHist), gaba: binsW(-0.5, 1, ninNascentGabaHist),
  gluFit: pairs(ninNascentGluFitX, ninNascentGluFit), gabaFit: pairs(ninNascentGabaFitX, ninNascentGabaFit),
  xlabel: "Nascent #", xlabelDy: 35, ylabelDx: -43}), 395, 215);
place(histPanel({w: 200, h: 193, ml: 50.3, mr: 9.7, mt: 13.3, mb: 37, xd: [-4.6, 87.5], yd: [0, 0.13], xticks: [0, 50], yticks: [0, 0.025, 0.05, 0.075, 0.1, 0.125], yfmt: ".3f",
  glu: binsW(-0.5, 1.5, bachNascentGluHist), gaba: binsW(-0.5, 2.5, bachNascentGabaHist),
  gluFit: pairs(bachNascentGluFitX, bachNascentGluFit), gabaFit: pairs(bachNascentGabaFitX, bachNascentGabaFit),
  xlabel: "Nascent #", xlabelDy: 35}), 595, 215);

// legend (panel b, top-left)
(function () {
  const lg = document.createElement("div");
  lg.style.cssText = "position:absolute;left:477px;top:37px;width:104px;height:72px;border:1px solid #d4d4d4;border-radius:3px;background:rgba(255,255,255,0.85);font:11.4px 'DejaVu Sans',sans-serif;color:#1a1a1a;";
  const kinds = [{c: GLU, op: 0.22, patch: true}, {c: GABA, op: 0.25, patch: true}, {c: GLU_LINE, patch: false}, {c: GABA, patch: false}];
  legendLabels.forEach((lab, i) => {
    const cy = 9.4 + i * 17.4;
    const sw = document.createElement("div");
    const k = kinds[i];
    if (k.patch) sw.style.cssText = `position:absolute;left:3.7px;top:${cy - 5.3}px;width:24px;height:10.6px;background:${k.c};opacity:${k.op};`;
    else sw.style.cssText = `position:absolute;left:3.7px;top:${cy - 1}px;width:24px;height:2px;background:${k.c};`;
    const t = document.createElement("div");
    t.textContent = lab;
    t.style.cssText = `position:absolute;left:38px;top:${cy - 7.5}px;line-height:15px;white-space:nowrap;`;
    lg.appendChild(sw); lg.appendChild(t);
  });
  root.appendChild(lg);
})();

// ---------- panel c ----------
const C = {w: 401, h: 408, ml: 70.7, mr: 2.7, mt: 50, mb: 38, xd: [-3, 5], yd: [-5, 3]};
const kxC = (C.w - C.ml - C.mr) / (C.xd[1] - C.xd[0]);
const measure = document.createElement("canvas").getContext("2d");
measure.font = "11.5px 'DejaVu Sans'";
const labelX = -2.5, labelTopY = -0.92, labelStep = 0.35;
const cLabels = cGenes.map((g, i) => ({
  g, lx: labelX, ly: labelTopY - i * labelStep,
  sx: labelX + (measure.measureText(g).width + 4) / kxC,
  px: cGeneBurstSize[i], py: cGeneBurstFreq[i]
}));
const cGray = [...flat(cCoreCols), ...flat(cCoreCols2), ...flat(cCoreCols3), ...flat(cCoreCols4), ...cHalo];
const plotC = Plot.plot({
  width: C.w, height: C.h, marginLeft: C.ml, marginRight: C.mr, marginTop: C.mt, marginBottom: C.mb,
  style: baseStyle,
  x: {domain: C.xd, ticks: cTicksX, tickFormat: fmtInt, tickSize: 4, tickPadding: 3, label: null},
  y: {domain: C.yd, ticks: cTicksY, tickFormat: fmtInt, tickSize: 4, tickPadding: 3, label: null},
  marks: [
    Plot.ruleX([0], dash),
    Plot.ruleY([0], dash),
    Plot.dot(cGray, {x: d => d[0], y: d => d[1], r: 3.8, fill: GRAY, fillOpacity: GRAY_OP, stroke: "none", clip: true}),
    ...diagMarks(C.xd, 5),
    Plot.link(cLabels, {x1: "sx", y1: "ly", x2: "px", y2: "py", stroke: "#f49a88", strokeOpacity: 0.85, strokeWidth: 0.9}),
    Plot.dot(cLabels, {x: "px", y: "py", r: 5.5, fill: "#ef5a3c", fillOpacity: 0.88, stroke: "none"}),
    Plot.text(cLabels, {x: "lx", y: "ly", text: "g", textAnchor: "start", lineAnchor: "middle", fontSize: 11.5, fill: TXT}),
    Plot.frame({stroke: "#666", strokeWidth: 1.2}),
    Plot.text(["Difference between IdU and control"], {frameAnchor: "top", dy: -6.7, textAnchor: "middle", lineAnchor: "bottom", fontSize: 16.4, fill: TXT}),
    Plot.text(["log₂ FC (burst size)"], {frameAnchor: "bottom", dy: 35, textAnchor: "middle", lineAnchor: "bottom", fontSize: 14, fill: TXT}),
    Plot.text(["log₂ FC (burst frequency)"], {frameAnchor: "left", dx: -35.7, rotate: -90, textAnchor: "middle", lineAnchor: "bottom", fontSize: 14, fill: TXT}),
    Plot.text(["c."], {frameAnchor: "top-left", dx: -55.7, dy: -15, textAnchor: "start", lineAnchor: "bottom", fontSize: 27, fill: TXT})
  ]
});
place(plotC, 795, 0);
</script></body></html>
